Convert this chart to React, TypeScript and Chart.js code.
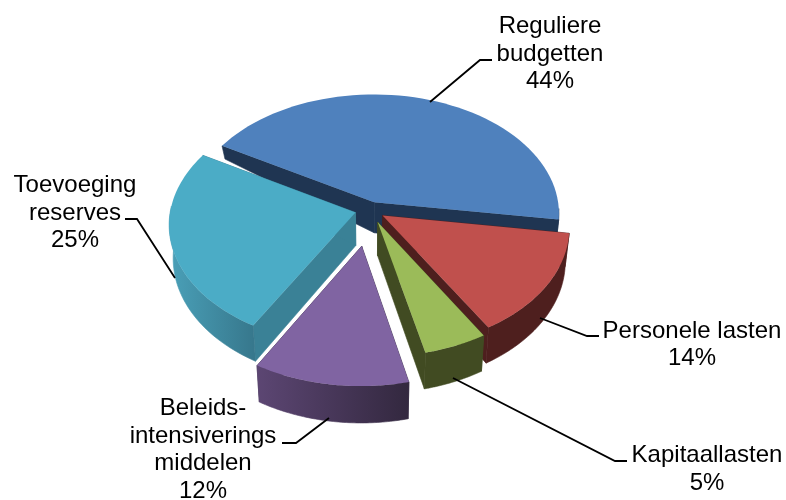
import React, { useEffect, useRef } from "react";
import { Chart, registerables } from "chart.js";

Chart.register(...registerables);

const categories = ["Reguliere budgetten", "Personele lasten", "Kapitaallasten", "Beleids- intensiverings middelen", "Toevoeging reserves"];
const shares = [44, 14, 5, 12, 25];
const explosion = [13, 15, 20, 55, 15];
const topColors = ["#4F81BD", "#C0504D", "#9BBB59", "#8064A2", "#4BACC6"];
const cutColors = ["#1F3552", "#4E1F1E", "#414B22", "#3A2E4A", "#3A8196"];
const rimFrom = ["#1F3552", "#4E1F1E", "#414B22", "#33283F", "#37788D"];
const rimTo = ["#1F3552", "#4E1F1E", "#414B22", "#5C4673", "#4AA0B8"];
const labelLines = [
  ["Reguliere", "budgetten"],
  ["Personele lasten"],
  ["Kapitaallasten"],
  ["Beleids-", "intensiverings", "middelen"],
  ["Toevoeging", "reserves"],
];
const drawOrder = [0, 4, 1, 2, 3];

const labelAnchors = [
  { x: 550, y: 33 },
  { x: 692, y: 337.5 },
  { x: 707, y: 462 },
  { x: 203, y: 415 },
  { x: 75, y: 192 },
];
const leaders = [
  [[430, 102], [480, 60], [492, 60]],
  [[540, 318], [587, 336], [599, 336]],
  [[453, 378], [615, 461], [627, 461]],
  [[329, 418], [296, 443], [282, 443]],
  [[175, 278], [137, 219], [125, 219]],
];

const TILT = 0.645;
const PERSP = 0.095;

const pie3d = {
  id: "pie3d",
  beforeDatasetsDraw(chart: any) {
    const ctx = chart.ctx as CanvasRenderingContext2D;
    const meta = chart.getDatasetMeta(0);
    const project = (cx: number, cy: number, R: number, x: number, y: number) => {
      const f = 1 / (1 - (PERSP * y) / R);
      return { x: cx + x * f, y: cy + TILT * y * f, v: y / R };
    };
    const drop = (p: { x: number; y: number; v: number }, cx: number) => {
      const d = p.v >= 0 ? 33 + 3 * p.v : Math.max(8, 33 + 35 * p.v);
      return { x: p.x + (cx - p.x) * 0.02, y: p.y + d, v: p.v };
    };
    const poly = (pts: { x: number; y: number }[], color: any, seal = false) => {
      ctx.beginPath();
      pts.forEach((p, i) => (i ? ctx.lineTo(p.x, p.y) : ctx.moveTo(p.x, p.y)));
      ctx.closePath();
      ctx.fillStyle = color;
      ctx.fill();
      if (seal) {
        ctx.strokeStyle = color;
        ctx.lineWidth = 0.6;
        ctx.stroke();
      }
    };
    for (const i of drawOrder) {
      const el = meta.data[i];
      const { x: cx, y: cy, startAngle: a0, endAngle: a1, outerRadius: R } = el;
      const offset = el.options.offset || 0;
      const mid = (a0 + a1) / 2;
      const ox = Math.cos(mid) * offset;
      const oy = Math.sin(mid) * offset;
      const apex = project(cx, cy, R, ox, oy);
      const steps = 60;
      const rim: { x: number; y: number; v: number }[] = [];
      for (let s = 0; s <= steps; s++) {
        const a = a0 + ((a1 - a0) * s) / steps;
        rim.push(project(cx, cy, R, ox + Math.cos(a) * R, oy + Math.sin(a) * R));
      }
      const apexB = drop(apex, cx);
      const first = rim[0], last = rim[steps];
      poly([apex, first, drop(first, cx), apexB], cutColors[i], true);
      poly([apex, last, drop(last, cx), apexB], cutColors[i], true);
      const front = rim.filter((p) => p.v > -0.05);
      if (front.length > 1) {
        const strip = [...front, ...front.map((p) => drop(p, cx)).reverse()];
        const xs = front.map((p) => p.x);
        const grad = ctx.createLinearGradient(Math.max(...xs), 0, Math.min(...xs), 0);
        grad.addColorStop(0, rimFrom[i]);
        grad.addColorStop(1, rimTo[i]);
        poly(strip, grad, true);
      }
      poly([apex, ...rim], topColors[i]);
    }
    return false;
  },
  afterDraw(chart: any) {
    const ctx = chart.ctx as CanvasRenderingContext2D;
    ctx.save();
    ctx.strokeStyle = "#000";
    ctx.lineWidth = 1.8;
    leaders.forEach((pts) => {
      ctx.beginPath();
      pts.forEach((p, i) => (i ? ctx.lineTo(p[0], p[1]) : ctx.moveTo(p[0], p[1])));
      ctx.stroke();
    });
    ctx.fillStyle = "#000";
    ctx.font = '24px "Liberation Sans", Arial, sans-serif';
    ctx.textAlign = "center";
    ctx.textBaseline = "alphabetic";
    labelLines.forEach((lines, i) => {
      const all = [...lines, `${shares[i]}%`];
      all.forEach((t, j) => ctx.fillText(t, labelAnchors[i].x, labelAnchors[i].y + j * 27.7));
    });
    ctx.restore();
  },
};

export default function App() {
  const ref = useRef<HTMLCanvasElement>(null);
  useEffect(() => {
    const chart = new Chart(ref.current!, {
      type: "pie",
      data: {
        labels: categories,
        datasets: [{ data: shares, backgroundColor: topColors, offset: explosion, borderWidth: 0 }],
      },
      options: {
        responsive: false,
        animation: false,
        rotation: -60,
        radius: 185,
        layout: { padding: { left: 0, right: 46, top: 0, bottom: 80 } },
        plugins: { legend: { display: false }, tooltip: { enabled: false } },
      },
      plugins: [pie3d],
    } as any);
    return () => chart.destroy();
  }, []);
  return (
    <div style={{ position: "fixed", left: 0, top: 0, width: 786, height: 500, background: "#fff" }}>
      <canvas ref={ref} width={786} height={500} style={{ display: "block" }} />
    </div>
  );
}
